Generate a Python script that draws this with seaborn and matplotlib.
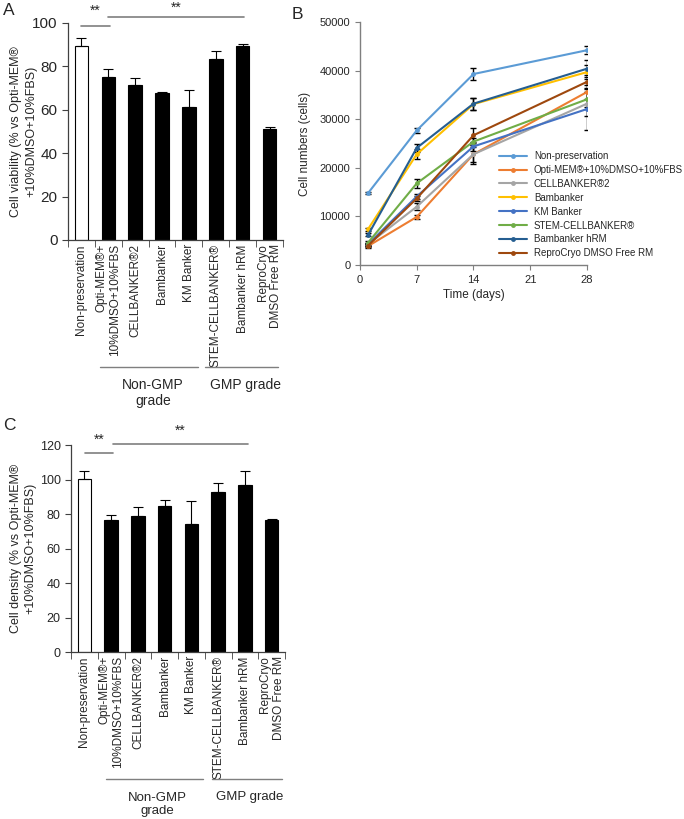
import numpy as np
import pandas as pd
import matplotlib
matplotlib.use("Agg")
import matplotlib.pyplot as plt
import seaborn as sns

sns.set_style("ticks")
plt.rcParams['font.family'] = ['Liberation Sans', 'DejaVu Sans']

# ---- data ----
groups = ["Non-preservation", "Opti-MEM®+\n10%DMSO+10%FBS", "CELLBANKER®2", "Bambanker",
          "KM Banker", "STEM-CELLBANKER®", "Bambanker hRM", "ReproCryo\nDMSO Free RM"]

viability = [89.2, 75.1, 71.5, 67.7, 61.2, 83.5, 89.4, 51.1]
viability_err = [3.9, 3.7, 3.0, 0.5, 7.9, 3.6, 0.8, 0.9]

density = [100.2, 76.6, 78.8, 84.4, 74.3, 92.9, 96.9, 76.6]
density_err = [5.0, 2.9, 5.0, 3.6, 13.3, 5.0, 8.3, 0.8]

days = [1, 7, 14, 28]
series_names = ["Non-preservation", "Opti-MEM®+10%DMSO+10%FBS", "CELLBANKER®2", "Bambanker",
                "KM Banker", "STEM-CELLBANKER®", "Bambanker hRM", "ReproCryo DMSO Free RM"]
cells_nonpres = [14800, 27700, 39300, 44200]
cells_opti = [3900, 9900, 22800, 35600]
cells_cb2 = [4300, 12000, 22800, 33200]
cells_bamb = [7400, 22800, 33100, 39700]
cells_km = [4300, 14100, 24400, 32100]
cells_stem = [4600, 16800, 25400, 34100]
cells_hrm = [6200, 24100, 33200, 40400]
cells_repro = [4000, 13700, 26700, 37700]
err_nonpres = [200, 500, 1300, 800]
err_opti = [300, 400, 1500, 1500]
err_cb2 = [300, 700, 2000, 2500]
err_bamb = [300, 1000, 1200, 1500]
err_km = [300, 500, 1000, 4300]
err_stem = [300, 1000, 700, 1500]
err_hrm = [300, 800, 1200, 1800]
err_repro = [300, 500, 1500, 1500]

line_colors = ["#5B9BD5", "#ED7D31", "#A5A5A5", "#FFC000",
               "#4472C4", "#70AD47", "#255E91", "#9E480E"]
bar_colors = ["white"] + ["black"] * 7

fig = plt.figure(figsize=(6.84, 8.19), dpi=100)
axA = fig.add_axes([0.0994, 0.7070, 0.3143, 0.2650])
axB = fig.add_axes([0.5263, 0.6764, 0.3319, 0.2967])
axC = fig.add_axes([0.1038, 0.2039, 0.3129, 0.2527])

spine_col = "#404040"
sig_col = "#7f7f7f"


def bar_panel(ax, vals, errs, ymax, ylabel, ytick_fs, ylab_x, sig, grp):
    df = pd.DataFrame({"grp": groups, "val": vals})
    sns.barplot(data=df, x="grp", y="val", hue="grp", palette=bar_colors, legend=False,
                edgecolor="black", linewidth=0.8, width=0.5, ax=ax)
    ax.errorbar(range(len(vals)), vals, yerr=[np.zeros(len(vals)), errs], fmt="none",
                ecolor="black", elinewidth=0.8, capsize=3.5, capthick=0.8)
    ax.set_xlim(-0.5, 7.5)
    ax.set_ylim(0, ymax)
    ax.set_yticks(range(0, ymax + 1, 20))
    ax.tick_params(axis="y", labelsize=ytick_fs, direction="out", length=4, color=spine_col)
    ax.set_xticks(range(8))
    ax.set_xticklabels(groups, rotation=90, fontsize=8.5, va="top", ha="center")
    for t in ax.get_xticklabels():
        t.set_multialignment("right")
    ax.tick_params(axis="x", which="major", length=0, pad=3)
    ax.set_xticks(np.arange(-0.5, 8, 1), minor=True)
    ax.tick_params(axis="x", which="minor", length=5, color=spine_col, direction="out")
    ax.set_xlabel("")
    ax.set_ylabel(ylabel, fontsize=9, linespacing=1.35)
    ax.yaxis.set_label_coords(ylab_x, 0.5)
    for s in ["top", "right"]:
        ax.spines[s].set_visible(False)
    for s in ["left", "bottom"]:
        ax.spines[s].set_color(spine_col)
        ax.spines[s].set_linewidth(0.9)
    # significance
    (x0, x1, h1, t1), (x2, x3, h2, t2) = sig
    ax.plot([x0, x1], [h1, h1], color=sig_col, lw=1.2, clip_on=False)
    ax.plot([x2, x3], [h2, h2], color=sig_col, lw=1.2, clip_on=False)
    ax.text((x0 + x1) / 2, t1, "**", ha="center", va="center", fontsize=10, clip_on=False)
    ax.text((x2 + x3) / 2, t2, "**", ha="center", va="center", fontsize=10, clip_on=False)
    # grade groups
    tr = ax.get_xaxis_transform()
    (ly, a0, a1, b0, b1, tx1, ty1, tx2, ty2, gfs) = grp
    ax.plot([a0, a1], [ly, ly], color=sig_col, lw=1.0, transform=tr, clip_on=False)
    ax.plot([b0, b1], [ly, ly], color=sig_col, lw=1.0, transform=tr, clip_on=False)
    ax.text(tx1, ty1, "Non-GMP\ngrade", ha="center", va="center", fontsize=gfs,
            transform=tr, linespacing=1.2)
    ax.text(tx2, ty2, "GMP grade", ha="center", va="center", fontsize=gfs, transform=tr)


bar_panel(axA, viability, viability_err, 100,
          "Cell viability (% vs Opti-MEM®\n+10%DMSO+10%FBS)", 11, -0.144,
          [(0.0, 1.05, 98.5, 105.5), (1.0, 6.05, 102.8, 107.0)],
          (-0.585, 0.69, 4.35, 4.6, 7.3, 2.67, -0.705, 6.1, -0.668, 10))

bar_panel(axC, density, density_err, 120,
          "Cell density (% vs Opti-MEM®\n+10%DMSO+10%FBS)", 9, -0.16,
          [(0.02, 1.07, 115.4, 122.9), (1.07, 6.1, 120.6, 128.2)],
          (-0.614, 0.81, 4.43, 4.77, 7.39, 2.73, -0.737, 6.18, -0.70, 9.5))

# ---- panel B ----
all_cells = [cells_nonpres, cells_opti, cells_cb2, cells_bamb, cells_km, cells_stem, cells_hrm, cells_repro]
all_err = [err_nonpres, err_opti, err_cb2, err_bamb, err_km, err_stem, err_hrm, err_repro]
long = pd.DataFrame({
    "day": np.tile(days, len(series_names)),
    "cells": np.concatenate(all_cells),
    "group": np.repeat(series_names, len(days)),
})
for vals, errs in zip(all_cells, all_err):
    axB.errorbar(days, vals, yerr=errs, fmt="none", ecolor="black", elinewidth=1.0,
                 capsize=2.2, capthick=1.0, zorder=1)
sns.lineplot(data=long, x="day", y="cells", hue="group", hue_order=series_names,
             palette=line_colors, marker="o", markersize=3.5, markeredgewidth=0,
             linewidth=1.5, ax=axB, zorder=2)
axB.set_xlim(0, 28)
axB.set_ylim(0, 50000)
axB.set_xticks([0, 7, 14, 21, 28])
axB.set_yticks(range(0, 50001, 10000))
axB.tick_params(labelsize=8, direction="out", length=3.5, color=sig_col)
axB.set_xlabel("Time (days)", fontsize=8.5, labelpad=3)
axB.set_ylabel("Cell numbers (cells)", fontsize=8.5, labelpad=6)
for s in ["top", "right"]:
    axB.spines[s].set_visible(False)
for s in ["left", "bottom"]:
    axB.spines[s].set_color(sig_col)
    axB.spines[s].set_linewidth(1.0)
h, l = axB.get_legend_handles_labels()
axB.legend(h, l, loc="upper left", bbox_to_anchor=(0.595, 0.485), frameon=False,
           fontsize=7.0, handlelength=2.9, handletextpad=0.7, labelspacing=0.4,
           borderaxespad=0)

# panel letters
fig.text(0.004, 0.996, "A", fontsize=12.5, va="top", ha="left")
fig.text(0.426, 0.992, "B", fontsize=12.5, va="top", ha="left")
fig.text(0.004, 0.490, "C", fontsize=12.5, va="top", ha="left")

fig.savefig("out.png", dpi=100)
